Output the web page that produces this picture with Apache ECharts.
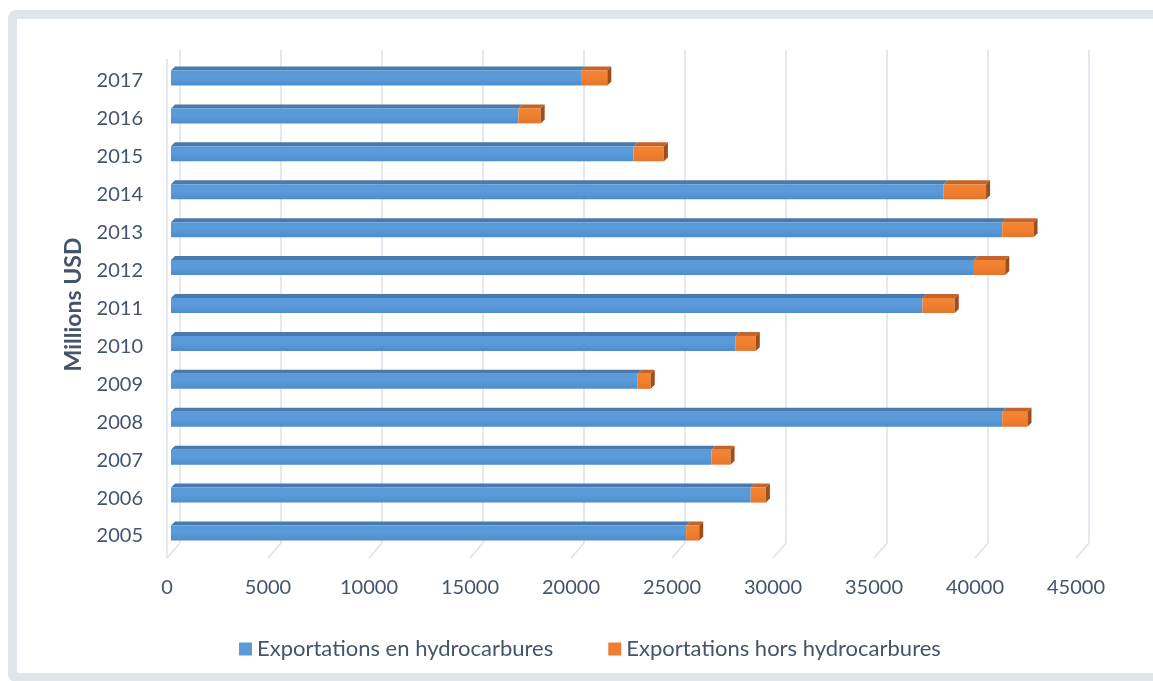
<!DOCTYPE html>
<html>
<head>
<meta charset="utf-8">
<script src="https://cdn.jsdelivr.net/npm/echarts@6/dist/echarts.min.js"></script>
<style>
html,body{margin:0;padding:0;width:1153px;height:681px;overflow:hidden;background:#fff;}
#frame{position:absolute;left:8px;top:10px;width:1170px;height:672px;border:9px solid #e0e4eb;border-radius:8px;box-sizing:border-box;}
#chart{position:absolute;left:0;top:0;width:1153px;height:681px;}
</style>
</head>
<body>
<div id="frame"></div>
<div id="chart"></div>
<script>
const years = ['2005','2006','2007','2008','2009','2010','2011','2012','2013','2014','2015','2016','2017'];
const hydrocarbures =     [25500, 28700, 26750, 41150, 23100, 27950, 37200, 39750, 41150, 38250, 22900, 17200, 20300];
const horsHydrocarbures = [  650,   750,   950,  1250,   650,  1000,  1600,  1550,  1550,  2100,  1500,  1100,  1300];
const xTicks = [0, 5000, 10000, 15000, 20000, 25000, 30000, 35000, 40000, 45000];

const font = 'Lato, "Open Sans", sans-serif';
const txt = '#44546A';

const blueData = years.map((y, i) => [i, 0, hydrocarbures[i]]);
const orangeData = years.map((y, i) => [i, hydrocarbures[i], hydrocarbures[i] + horsHydrocarbures[i]]);

function barRender(c, showSide) {
  return function (params, api) {
    const cat = api.value(0), s = api.value(1), e = api.value(2);
    const p0 = api.coord([s, cat]), p1 = api.coord([e, cat]);
    const dx = -9, dy = 9, h = 15, d = 4;
    const x0 = p0[0] + dx, x1 = p1[0] + dx, yc = p0[1] + dy;
    const yt = yc - h / 2, yb = yc + h / 2;
    const children = [
      {type: 'polygon', shape: {points: [[x0, yt], [x1, yt], [x1 + d, yt - d], [x0 + d, yt - d]]},
       style: {fill: c.top}},
      {type: 'rect', shape: {x: x0, y: yt, width: x1 - x0, height: h},
       style: {fill: new echarts.graphic.LinearGradient(0, 0, 0, 1, [
         {offset: 0, color: c.f1}, {offset: 0.5, color: c.f2}, {offset: 1, color: c.f3}])}}
    ];
    if (showSide) {
      children.push({type: 'polygon', shape: {points: [[x1, yt], [x1 + d, yt - d], [x1 + d, yb - d], [x1, yb]]},
        style: {fill: c.side}});
    }
    return {type: 'group', children: children};
  };
}

function floorRender(params, api) {
  const v = api.value(0);
  const cs = params.coordSys;
  const p = api.coord([v, 0]);
  const bottom = cs.y + cs.height;
  const style = {stroke: '#dde1e8', lineWidth: 1.5};
  const children = [{type: 'line', shape: {x1: p[0], y1: bottom, x2: p[0] - 13, y2: bottom + 15}, style: style}];
  if (v === 0) {
    children.push({type: 'line', shape: {x1: p[0] - 13, y1: cs.y + 9, x2: p[0] - 13, y2: bottom + 15}, style: style});
  }
  return {type: 'group', children: children};
}

const chart = echarts.init(document.getElementById('chart'), null, {renderer: 'canvas'});
chart.setOption({
  animation: false,
  backgroundColor: 'transparent',
  grid: {left: 180, right: 64, top: 50, bottom: 138},
  legend: {
    left: 234, top: 633, icon: 'rect', itemWidth: 13, itemHeight: 13, itemGap: 55,
    textStyle: {color: txt, fontSize: 22, fontFamily: font},
    data: ['Exportations en hydrocarbures', 'Exportations hors hydrocarbures']
  },
  xAxis: {
    type: 'value', min: 0, max: 45000, interval: 5000,
    axisLine: {show: false}, axisTick: {show: false},
    splitLine: {show: true, lineStyle: {color: '#dde1e8', width: 1.5}},
    axisLabel: {color: txt, fontSize: 20, fontFamily: font, margin: 35, padding: [0, 26, 0, 0],
      formatter: v => String(v)}
  },
  yAxis: {
    type: 'category', data: years,
    name: 'Millions USD', nameLocation: 'middle', nameGap: 95, nameRotate: 90,
    nameTextStyle: {color: txt, fontSize: 23, fontWeight: 'bold', fontFamily: font, padding: [0, 16, 0, 0]},
    axisLine: {show: false}, axisTick: {show: false}, splitLine: {show: false},
    axisLabel: {color: txt, fontSize: 20, fontFamily: font, margin: 37, verticalAlign: 'top', lineHeight: 24}
  },
  series: [
    {type: 'custom', name: 'floor', silent: true, z: 1, data: xTicks.map(v => [v]),
     encode: {x: 0}, renderItem: floorRender},
    {type: 'custom', name: 'Exportations en hydrocarbures', z: 2,
     itemStyle: {color: '#5B9BD5'},
     encode: {y: 0, x: [1, 2]}, data: blueData,
     renderItem: barRender({top: '#4a79ad', f1: '#5a9ad9', f2: '#5b9bd9', f3: '#4e8dcc', side: '#3f6d9e'}, false)},
    {type: 'custom', name: 'Exportations hors hydrocarbures', z: 3,
     itemStyle: {color: '#ED7D31'},
     encode: {y: 0, x: [1, 2]}, data: orangeData,
     renderItem: barRender({top: '#c3652a', f1: '#f28434', f2: '#f0802f', f3: '#e4752a', side: '#9e4d1c'}, true)}
  ]
});
</script>
</body>
</html>
